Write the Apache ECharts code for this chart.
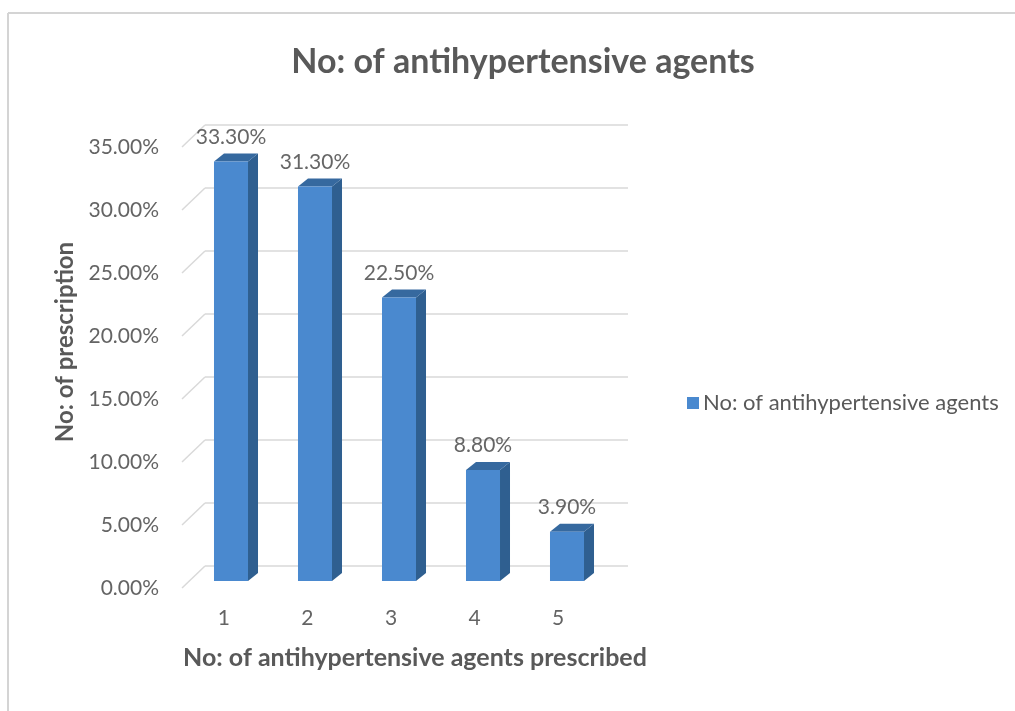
<!DOCTYPE html>
<html>
<head>
<meta charset="utf-8">
<script src="https://cdn.jsdelivr.net/npm/echarts@6/dist/echarts.min.js"></script>
<style>
html,body{margin:0;padding:0;background:#fff;}
#c{width:1015px;height:711px;}
</style>
</head>
<body>
<div id="c"></div>
<script>
const categories = ['1', '2', '3', '4', '5'];
const values = [0.333, 0.313, 0.225, 0.088, 0.039];
const yTicks = [0, 0.05, 0.10, 0.15, 0.20, 0.25, 0.30, 0.35];
const seriesName = 'No: of antihypertensive agents';
const titleText = 'No: of antihypertensive agents';
const xTitle = 'No: of antihypertensive agents prescribed';
const yTitle = 'No: of prescription';

const FONT = 'Lato';
const FRONT = '#4a89cf', SIDE = '#2f5f90', TOP = '#36699f';
const GRIDC = '#d9d9d9';
const pct = v => (v * 100).toFixed(2) + '%';

const chart = echarts.init(document.getElementById('c'));

function valAxis(gi, show) {
  return {
    type: 'value', gridIndex: gi, min: 0, max: 0.35, interval: 0.05,
    axisLine: {show: false}, axisTick: {show: false},
    splitLine: {show: gi === 0, lineStyle: {color: GRIDC, width: 1.5}},
    axisLabel: {show: show, formatter: pct, fontFamily: FONT, fontSize: 21, color: '#646464', margin: 23}
  };
}
function catAxis(gi, show) {
  return {
    type: 'category', gridIndex: gi, data: categories,
    axisLine: {show: false}, axisTick: {show: false}, splitLine: {show: false},
    axisLabel: {show: show, fontFamily: FONT, fontSize: 21, color: '#646464', margin: 20}
  };
}

chart.setOption({
  animation: false,
  backgroundColor: '#fff',
  title: {
    text: titleText, left: 518, top: 40, textAlign: 'center',
    textStyle: {fontFamily: FONT, fontWeight: 'bold', fontSize: 34, color: '#595959'}
  },
  legend: {
    left: 682, top: 387, icon: 'rect', itemWidth: 12, itemHeight: 12, itemGap: 10,
    data: [{name: seriesName, itemStyle: {color: FRONT}}],
    textStyle: {fontFamily: FONT, fontSize: 22, color: '#595959', padding: [0, 0, 0, -1]}
  },
  grid: [
    {left: 205, width: 423, top: 125, bottom: 145},  // back wall
    {left: 189, width: 420, top: 140, bottom: 130},  // bar front plane
    {left: 182, width: 418, top: 147, bottom: 123}   // label plane
  ],
  xAxis: [catAxis(0, false), catAxis(1, false), catAxis(2, true)],
  yAxis: [valAxis(0, false), valAxis(1, false), valAxis(2, true)],
  graphic: [
    {type: 'line', shape: {x1: 8, y1: 13, x2: 1015, y2: 13}, style: {stroke: '#d4d4d4', lineWidth: 2}},
    {type: 'line', shape: {x1: 8, y1: 13, x2: 8, y2: 711}, style: {stroke: '#d4d4d4', lineWidth: 2}},
    {type: 'text', x: 65, y: 342, rotation: Math.PI / 2,
      style: {text: yTitle, fontFamily: FONT, fontWeight: 'bold', fontSize: 24, fill: '#595959', align: 'center', verticalAlign: 'middle'}},
    {type: 'text', x: 415, y: 658,
      style: {text: xTitle, fontFamily: FONT, fontWeight: 'bold', fontSize: 25, fill: '#595959', align: 'center', verticalAlign: 'middle'}}
  ],
  series: [
    {
      // side wall diagonals
      type: 'custom', xAxisIndex: 2, yAxisIndex: 2, silent: true,
      data: yTicks.map(v => [0, v]),
      renderItem: function (params, api) {
        const p = api.coord([0, api.value(1)]);
        const x0 = params.coordSys.x;
        return {type: 'line', shape: {x1: x0, y1: p[1], x2: x0 + 23, y2: p[1] - 22},
          style: {stroke: GRIDC, lineWidth: 1.5}};
      }
    },
    {
      name: seriesName, type: 'custom', xAxisIndex: 1, yAxisIndex: 1,
      itemStyle: {color: FRONT},
      data: values.map((v, i) => [i, v]),
      renderItem: function (params, api) {
        const i = api.value(0), v = api.value(1);
        const base = api.coord([i, 0]), top = api.coord([i, v]);
        const w = api.size([1, 0])[0] * 0.405;
        const l = top[0] - w / 2, r = top[0] + w / 2;
        const dx = 10, dy = -8;
        return {type: 'group', children: [
          {type: 'polygon', shape: {points: [[r, base[1]], [r + dx, base[1] + dy], [r + dx, top[1] + dy], [r, top[1]]]}, style: {fill: SIDE}},
          {type: 'polygon', shape: {points: [[l, top[1]], [r, top[1]], [r + dx, top[1] + dy], [l + dx, top[1] + dy]]}, style: {fill: TOP}},
          {type: 'rect', shape: {x: l, y: top[1], width: w, height: base[1] - top[1]}, style: {fill: FRONT}}
        ]};
      }
    },
    {
      type: 'scatter', xAxisIndex: 1, yAxisIndex: 1, symbolSize: 0, silent: true,
      data: values.map((v, i) => [i, v]),
      label: {show: true, position: 'top', distance: 14, formatter: p => pct(p.value[1]),
        fontFamily: FONT, fontSize: 21, color: '#404040'}
    }
  ]
});
</script>
</body>
</html>
